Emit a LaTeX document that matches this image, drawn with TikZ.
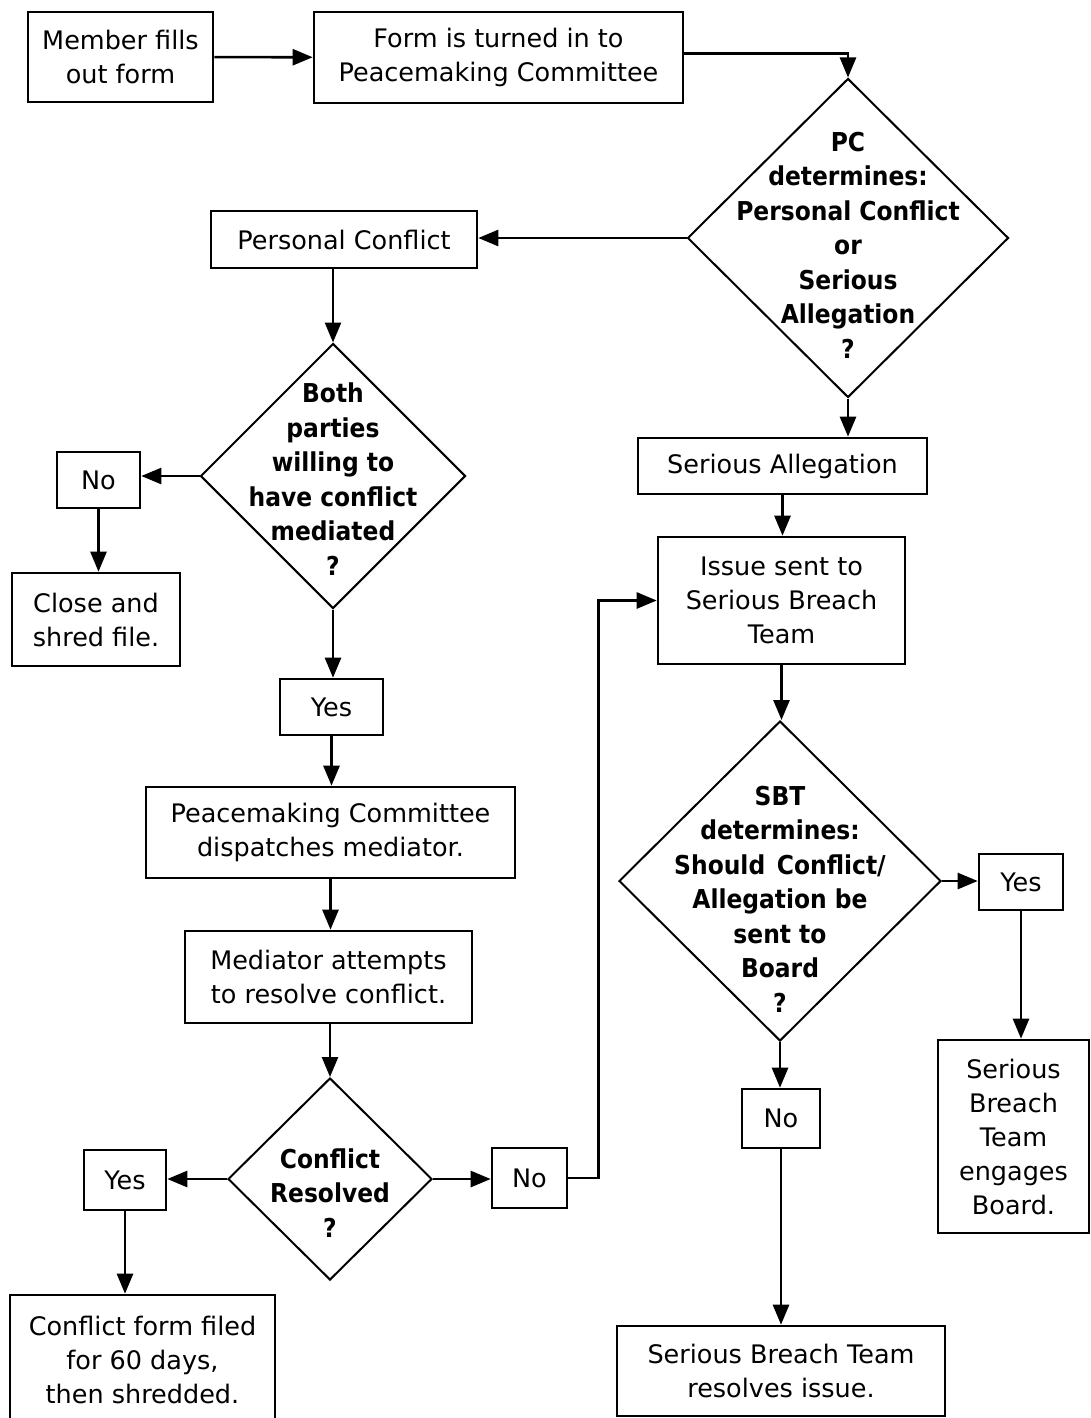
\documentclass[tikz,border=0pt]{standalone}
\usepackage{fontspec}
\setmainfont{DejaVu Sans}
\newfontfamily\dfont{DejaVu Sans Condensed Bold}
\usetikzlibrary{shapes.geometric,arrows.meta}
\begin{document}
\begin{tikzpicture}[x=1pt,y=-1pt,
 box/.style={draw, line width=2.6pt, fill=white, align=center, inner sep=0pt, font=\fontsize{25.5}{34}\selectfont},
 dia/.style={draw, diamond, line width=2pt, fill=white, inner sep=0pt},
 dtext/.style={font=\dfont\fontsize{26}{34.5}\selectfont, align=center},
 arr/.style={line width=2.6pt, -{Triangle[length=20pt,width=16pt]}},
]
\useasboundingbox[fill=white] (0,0) rectangle (1091,1418);

% boxes
\node[box, minimum width=185pt, minimum height=90pt] (A) at (120.5,57) {Member fills\\out form};
\node[box, minimum width=369pt, minimum height=91pt] (B) at (498.5,57.5) {Form is turned in to\\Peacemaking Committee};
\node[box, minimum width=266pt, minimum height=57pt] (PC) at (344,239.5) {Personal Conflict};
\node[box, minimum width=289pt, minimum height=56pt] (SA) at (782.5,466) {Serious Allegation};
\node[box, minimum width=83pt, minimum height=56pt] (No2) at (98.5,480) {No};
\node[box, minimum width=168pt, minimum height=93pt] (Close) at (96,619.5) {Close and\\shred file.};
\node[box, minimum width=103pt, minimum height=56pt] (Yes2) at (331.5,707) {Yes};
\node[box, minimum width=369pt, minimum height=91pt] (PCD) at (330.5,832.5) {Peacemaking Committee\\dispatches mediator.};
\node[box, minimum width=287pt, minimum height=92pt] (Med) at (328.5,977) {Mediator attempts\\to resolve conflict.};
\node[box, minimum width=82pt, minimum height=60pt] (Yes3) at (125,1180) {Yes};
\node[box, minimum width=265pt, minimum height=130pt] (CF) at (142.5,1360) {Conflict form filed\\for 60 days,\\then shredded.};
\node[box, minimum width=75pt, minimum height=60pt] (No3) at (529.5,1178) {No};
\node[box, minimum width=247pt, minimum height=127pt] (Issue) at (781.5,600.5) {Issue sent to\\Serious Breach\\Team};
\node[box, minimum width=84pt, minimum height=56pt] (Yes4) at (1021,882) {Yes};
\node[box, minimum width=151pt, minimum height=193pt] (SBTB) at (1013.5,1136.5) {Serious\\Breach\\Team\\engages\\Board.};
\node[box, minimum width=78pt, minimum height=59pt] (No4) at (781,1118.5) {No};
\node[box, minimum width=328pt, minimum height=90pt] (SBTR) at (781,1371) {Serious Breach Team\\resolves issue.};

% diamonds
\node[dia, minimum width=321pt, minimum height=319pt,
  label={[dtext, yshift=-7pt]center:{PC\\determines:\\Personal Conflict\\or\\Serious\\Allegation\\?}}] (D1) at (848,238) {};
\node[dia, minimum width=265pt, minimum height=265pt,
  label={[dtext, yshift=-3pt]center:{Both\\parties\\willing to\\have conflict\\mediated\\?}}] (D2) at (333,476) {};
\node[dia, minimum width=204pt, minimum height=202pt,
  label={[dtext, yshift=-14pt]center:{Conflict\\Resolved\\?}}] (D3) at (330,1179) {};
\node[dia, minimum width=322pt, minimum height=320pt,
  label={[dtext, yshift=-18pt]center:{SBT\\determines:\\Should\hspace{0.45em}Conflict/\\Allegation be\\sent to\\Board\\?}}] (D4) at (780,881) {};

% connectors
\draw[arr] (A) -- (B);
\draw[arr] ([yshift=4pt]B.east) -| (D1.north);
\draw[arr] (D1.west) -- (D1.west -| PC.east);
\draw[arr] (D1.south) -- (D1.south |- SA.north);
\draw[arr] (PC.south -| D2.north) -- (D2.north);
\draw[arr] (D2.west) -- (D2.west -| No2.east);
\draw[arr] (No2.south) -- (No2.south |- Close.north);
\draw[arr] (D2.south) -- (D2.south |- Yes2.north);
\draw[arr] (Yes2.south) -- (Yes2.south |- PCD.north);
\draw[arr] (PCD.south) -- (PCD.south |- Med.north);
\draw[arr] (D3.north |- Med.south) -- (D3.north);
\draw[arr] (D3.west) -- (D3.west -| Yes3.east);
\draw[arr] (Yes3.south) -- (Yes3.south |- CF.north);
\draw[arr] (D3.east) -- (D3.east -| No3.west);
\draw[arr] (No3.east) -- ++(30,0) |- (Issue.west);
\draw[arr] (SA.south) -- (SA.south |- Issue.north);
\draw[arr] (Issue.south) -- (Issue.south |- D4.north);
\draw[arr] (D4.east) -- (D4.east -| Yes4.west);
\draw[arr] (Yes4.south) -- (Yes4.south |- SBTB.north);
\draw[arr] (D4.south) -- (D4.south |- No4.north);
\draw[arr] (No4.south) -- (No4.south |- SBTR.north);
\end{tikzpicture}
\end{document}
